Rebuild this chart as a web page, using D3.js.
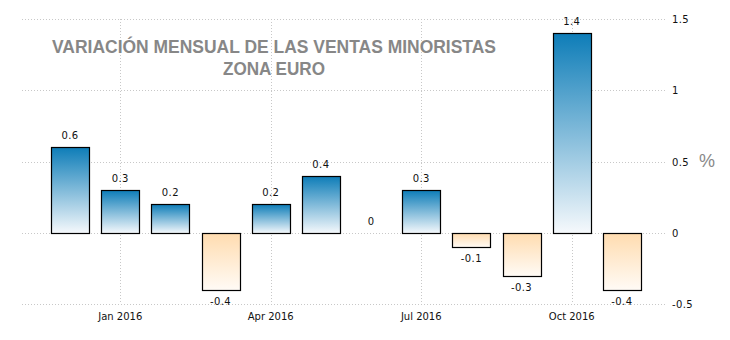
<!DOCTYPE html>
<html>
<head>
<meta charset="utf-8">
<script src="https://cdn.jsdelivr.net/npm/d3@7"></script>
<style>
  body { margin: 0; background: #fff; }
  svg { display: block; }
</style>
</head>
<body>
<div id="chart"></div>
<script>
// data
const months = ["2015-12", "2016-01", "2016-02", "2016-03", "2016-04", "2016-05",
                "2016-06", "2016-07", "2016-08", "2016-09", "2016-10", "2016-11"];
const values = [0.6, 0.3, 0.2, -0.4, 0.2, 0.4, 0, 0.3, -0.1, -0.3, 1.4, -0.4];
const xTickMonths = ["2016-01", "2016-04", "2016-07", "2016-10"];
const xTickLabels = ["Jan 2016", "Apr 2016", "Jul 2016", "Oct 2016"];
const yTicks = [-0.5, 0, 0.5, 1, 1.5];
const titleLines = ["VARIACIÓN MENSUAL DE LAS VENTAS MINORISTAS", "ZONA EURO"];

const width = 730, height = 340;

const svg = d3.select("#chart")
    .append("svg")
    .attr("width", width)
    .attr("height", height);

const defs = svg.append("defs");
const gPos = defs.append("linearGradient")
    .attr("id", "gradPos")
    .attr("x1", 0).attr("y1", 0).attr("x2", 0).attr("y2", 1);
gPos.append("stop").attr("offset", "0%").attr("stop-color", "#0e7db8");
gPos.append("stop").attr("offset", "100%").attr("stop-color", "#f6f9fc");
const gNeg = defs.append("linearGradient")
    .attr("id", "gradNeg")
    .attr("x1", 0).attr("y1", 0).attr("x2", 0).attr("y2", 1);
gNeg.append("stop").attr("offset", "0%").attr("stop-color", "#ffdcb0");
gNeg.append("stop").attr("offset", "100%").attr("stop-color", "#fffbf6");

const x = d3.scaleBand()
    .domain(months)
    .range([45, 647])
    .paddingInner(0.24)
    .paddingOuter(0.12);

const y = d3.scaleLinear()
    .domain([-0.5, 1.5])
    .range([304, 19]);

const gridLeft = 22, gridRight = 665;

// horizontal grid
svg.append("g")
    .selectAll("line")
    .data(yTicks)
    .join("line")
    .attr("x1", gridLeft)
    .attr("x2", gridRight)
    .attr("y1", d => Math.round(y(d)) + 0.5)
    .attr("y2", d => Math.round(y(d)) + 0.5)
    .style("stroke", "#c8c8c8")
    .style("stroke-dasharray", "1,2");

// vertical grid
svg.append("g")
    .selectAll("line")
    .data(xTickMonths)
    .join("line")
    .attr("x1", d => Math.round(x(d) + x.bandwidth() / 2) + 0.5)
    .attr("x2", d => Math.round(x(d) + x.bandwidth() / 2) + 0.5)
    .attr("y1", y(1.5))
    .attr("y2", y(-0.5))
    .style("stroke", "#c8c8c8")
    .style("stroke-dasharray", "1,2");

// title (narrow bold, squeezed to the reference width)
const titleWidths = [444, 102];
svg.append("g")
    .selectAll("text")
    .data(titleLines)
    .join("text")
    .attr("x", 274)
    .attr("y", (d, i) => 53 + i * 22)
    .attr("text-anchor", "middle")
    .attr("textLength", (d, i) => titleWidths[i])
    .attr("lengthAdjust", "spacingAndGlyphs")
    .style("font-family", "'Liberation Sans Narrow', 'Liberation Sans', Arial, sans-serif")
    .style("font-weight", "bold")
    .style("font-size", "19px")
    .style("fill", "#878787")
    .text(d => d);

// bars
svg.append("g")
    .selectAll("rect")
    .data(values.map((v, i) => ({ m: months[i], v: v })).filter(d => d.v !== 0))
    .join("rect")
    .attr("x", d => Math.round(x(d.m)) + 0.5)
    .attr("width", Math.round(x.bandwidth()))
    .attr("y", d => Math.round(y(Math.max(0, d.v))) + 0.5)
    .attr("height", d => Math.round(Math.abs(y(d.v) - y(0))))
    .style("fill", d => d.v > 0 ? "url(#gradPos)" : "url(#gradNeg)")
    .style("stroke", "#000")
    .style("stroke-width", 1.2);

// bar labels
svg.append("g")
    .selectAll("text")
    .data(values.map((v, i) => ({ m: months[i], v: v })))
    .join("text")
    .attr("x", d => x(d.m) + x.bandwidth() / 2)
    .attr("y", d => d.v < 0 ? y(d.v) + 12 : y(d.v) - 11)
    .attr("text-anchor", "middle")
    .attr("dominant-baseline", "middle")
    .style("font-family", "'DejaVu Sans', Verdana, sans-serif")
    .style("font-size", "10px")
    .style("letter-spacing", "0.4px")
    .style("fill", "#111")
    .text(d => d.v);

// y tick labels (right)
svg.append("g")
    .selectAll("text")
    .data(yTicks)
    .join("text")
    .attr("x", 672)
    .attr("y", d => y(d) + 1)
    .attr("dominant-baseline", "middle")
    .style("font-family", "'DejaVu Sans', Verdana, sans-serif")
    .style("font-size", "10px")
    .style("letter-spacing", "0.4px")
    .style("fill", "#111")
    .text(d => d);

// x tick labels
svg.append("g")
    .selectAll("text")
    .data(xTickMonths)
    .join("text")
    .attr("x", d => x(d) + x.bandwidth() / 2)
    .attr("y", 317)
    .attr("text-anchor", "middle")
    .attr("dominant-baseline", "middle")
    .style("font-family", "'DejaVu Sans', Verdana, sans-serif")
    .style("font-size", "10px")
    .style("fill", "#111")
    .text((d, i) => xTickLabels[i]);

// unit
svg.append("text")
    .attr("x", 699)
    .attr("y", 167)
    .style("font-family", "'Liberation Sans', Arial, sans-serif")
    .style("font-size", "18px")
    .style("fill", "#888")
    .text("%");
</script>
</body>
</html>
